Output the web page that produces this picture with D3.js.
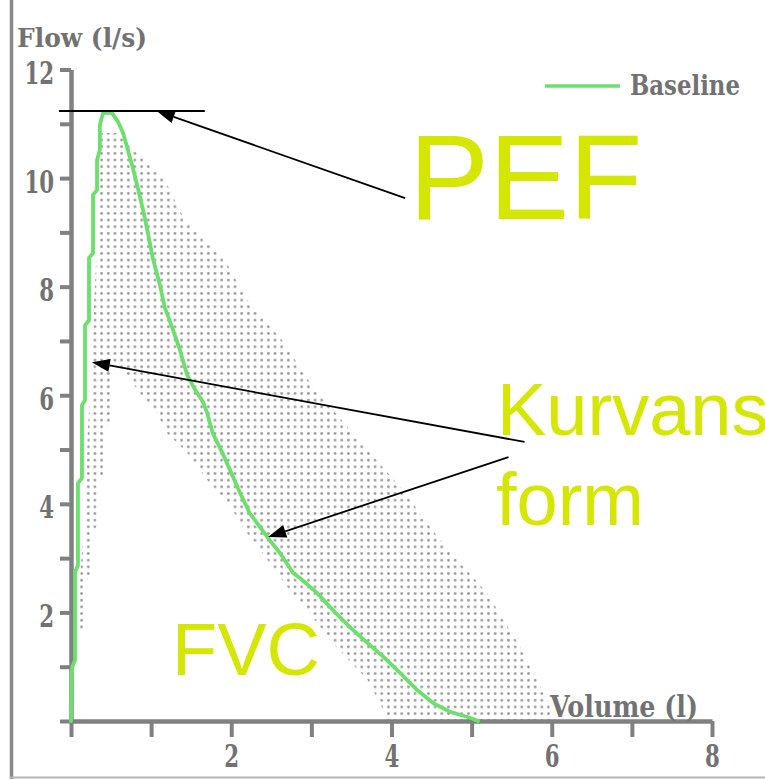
<!DOCTYPE html>
<html>
<head>
<meta charset="utf-8">
<script src="https://cdn.jsdelivr.net/npm/d3@7"></script>
<style>
  html, body { margin: 0; padding: 0; background: #ffffff; }
  svg { display: block; }
</style>
</head>
<body>
<svg id="chart" width="765" height="780"></svg>
<script>
// Baseline expiratory flow-volume curve (volume in l, flow in l/s)
const volume = [0, 0.012, 0.05, 0.05, 0.087, 0.087, 0.137, 0.137, 0.175, 0.175, 0.225, 0.225, 0.275, 0.275,
  0.325, 0.325, 0.36, 0.36, 0.40, 0.51, 0.59, 0.65, 0.70, 0.77, 0.84, 0.90, 0.96, 1.02, 1.11, 1.17, 1.26,
  1.36, 1.45, 1.55, 1.65, 1.70, 1.77, 1.89, 2.00, 2.11, 2.23, 2.36, 2.48, 2.61, 2.77, 2.86, 3.07, 3.27,
  3.48, 3.70, 3.90, 4.11, 4.32, 4.52, 4.73, 4.98, 5.08];
const flow = [0, 0.98, 1.12, 2.74, 2.87, 4.38, 4.48, 5.82, 5.91, 7.29, 7.38, 8.53, 8.62, 9.69,
  9.78, 10.33, 10.52, 10.98, 11.20, 11.20, 11.03, 10.83, 10.57, 10.20, 9.78, 9.41, 8.99, 8.53, 8.03, 7.62, 7.26,
  6.83, 6.37, 6.10, 5.87, 5.67, 5.30, 4.94, 4.57, 4.20, 3.83, 3.57, 3.33, 3.09, 2.73, 2.63, 2.36, 2.04,
  1.73, 1.44, 1.18, 0.88, 0.57, 0.33, 0.17, 0.06, 0];

// Predicted normal band, traced as one closed outline (volume, flow)
const bandVolume = [0.11, 0.11, 0.16, 0.19, 0.21, 0.26, 0.29, 0.32, 0.35, 0.36, 0.57, 0.82, 1.17, 1.42, 1.92,
  2.20, 2.63, 3.02, 3.52, 4.11, 4.61, 5.19, 5.61, 5.94, 6.04, 3.92, 3.90, 3.70, 3.23, 2.90, 2.70, 2.45, 2.20,
  1.99, 1.70, 1.45, 1.20, 1.07, 0.86, 0.71, 0.49, 0.49, 0.40, 0.40, 0.32, 0.32, 0.24, 0.24, 0.16, 0.16];
const bandFlow = [1.64, 2.60, 3.52, 4.44, 5.36, 6.46, 7.75, 8.67, 9.78, 10.83, 10.83, 10.46, 9.96, 9.23, 8.49,
  7.75, 7.02, 6.15, 5.30, 4.31, 3.33, 2.36, 1.36, 0.39, 0, 0, 0.20, 0.76, 1.49, 2.14, 2.47, 2.97, 3.46,
  3.94, 4.44, 4.94, 5.30, 5.67, 6.04, 6.34, 6.65, 5.49, 5.36, 4.53, 4.44, 3.57, 3.48, 2.65, 2.56, 1.64];

const xTicks = [0, 1, 2, 3, 4, 5, 6, 7, 8];
const xTickLabels = ["", "", "2", "", "4", "", "6", "", "8"];
const yTicks = [0, 1, 2, 3, 4, 5, 6, 7, 8, 9, 10, 11, 12];
const yTickLabels = ["", "", "2", "", "4", "", "6", "", "8", "", "10", "", "12"];

const seriesName = "Baseline";
const xTitle = "Volume (l)";
const yTitle = "Flow (l/s)";

// Callout labels
const pefLabel = "PEF";
const shapeLabel = ["Kurvans", "form"];
const fvcLabel = "FVC";

const svg = d3.select("#chart");
const W = 765, H = 780;

const x = d3.scaleLinear().domain([0, 8]).range([71, 712]);
const y = d3.scaleLinear().domain([0, 12]).range([721, 69.5]);

const axisGray = "#808080";
const textGray = "#727272";
const curveGreen = "#6cdf6c";
const calloutColor = "#d5e600";
const labelFont = "'DejaVu Serif', 'Liberation Serif', serif";
const calloutFont = "'Liberation Sans', Arial, sans-serif";

// outer frame
svg.append("line").attr("x1", 11.5).attr("x2", 11.5).attr("y1", 0).attr("y2", 779)
  .attr("stroke", "#8a8a8a").attr("stroke-width", 3.5);
svg.append("line").attr("x1", 10).attr("x2", W).attr("y1", 777.5).attr("y2", 777.5)
  .attr("stroke", "#b4b4b4").attr("stroke-width", 2);

// dot pattern for the normal band
const defs = svg.append("defs");
const pat = defs.append("pattern").attr("id", "dots")
  .attr("patternUnits", "userSpaceOnUse")
  .attr("x", 4.9).attr("y", 3.3).attr("width", 6.67).attr("height", 6.67);
pat.append("circle").attr("cx", 3.33).attr("cy", 3.33).attr("r", 1.35).attr("fill", "#969696");

const bandPts = bandVolume.map((v, i) => [v, bandFlow[i]]);
svg.append("path")
  .attr("d", d3.line().x(d => x(d[0])).y(d => y(d[1]))(bandPts) + "Z")
  .attr("fill", "url(#dots)");

// axes
const gY = svg.append("g").attr("transform", `translate(${x(0)},0)`)
  .call(d3.axisLeft(y).tickValues(yTicks).tickSize(11).tickSizeOuter(0)
    .tickFormat((d, i) => yTickLabels[i]));
const gX = svg.append("g").attr("transform", `translate(0,${y(0)})`)
  .call(d3.axisBottom(x).tickValues(xTicks).tickSize(16).tickSizeOuter(0)
    .tickFormat((d, i) => xTickLabels[i]));

[gY, gX].forEach(g => {
  g.select(".domain").attr("stroke", axisGray).attr("stroke-width", 4.5);
  g.selectAll(".tick line").attr("stroke", axisGray).attr("stroke-width", 4);
  g.selectAll(".tick text")
    .attr("fill", textGray)
    .attr("font-family", labelFont)
    .attr("font-weight", "bold")
    .attr("font-size", 32)
    .each(function () {
      const t = d3.select(this).text();
      if (t) d3.select(this).attr("textLength", 14.8 * t.length).attr("lengthAdjust", "spacingAndGlyphs");
    });
});
gY.selectAll(".tick text").attr("x", -17).attr("dy", 0).attr("y", 14).attr("text-anchor", "end");
gX.selectAll(".tick text").attr("y", 46).attr("dy", 0).attr("text-anchor", "middle");

// axis titles
svg.append("text").attr("x", 17).attr("y", 47)
  .attr("font-family", labelFont).attr("font-weight", "bold").attr("font-size", 26)
  .attr("fill", textGray).attr("textLength", 130).attr("lengthAdjust", "spacingAndGlyphs")
  .text(yTitle);
svg.append("text").attr("x", 550).attr("y", 717)
  .attr("font-family", labelFont).attr("font-weight", "bold").attr("font-size", 29)
  .attr("fill", textGray).attr("textLength", 148).attr("lengthAdjust", "spacingAndGlyphs")
  .text(xTitle);

// flow-volume curve
const curvePts = volume.map((v, i) => [v, flow[i]]);
svg.append("path")
  .attr("d", d3.line().x(d => x(d[0])).y(d => y(d[1]))(curvePts))
  .attr("fill", "none").attr("stroke", curveGreen).attr("stroke-width", 3.8)
  .attr("stroke-linejoin", "round").attr("stroke-linecap", "round");

// legend
svg.append("line").attr("x1", 545).attr("x2", 620).attr("y1", 86).attr("y2", 86)
  .attr("stroke", curveGreen).attr("stroke-width", 3.5);
svg.append("text").attr("x", 630).attr("y", 95)
  .attr("font-family", labelFont).attr("font-weight", "bold").attr("font-size", 27)
  .attr("fill", textGray).attr("textLength", 110).attr("lengthAdjust", "spacingAndGlyphs")
  .text(seriesName);

// peak flow marker line
const peakFlow = d3.max(flow);
const peakY = y(peakFlow) - 2;
svg.append("line").attr("x1", x(-0.15)).attr("x2", x(1.67)).attr("y1", peakY).attr("y2", peakY)
  .attr("stroke", "#000").attr("stroke-width", 2);

// callout arrows: [from volume, from flow, to volume, to flow]
const arrows = [
  [4.17, 9.63, 1.07, peakFlow],
  [5.66, 5.14, 0.26, 6.61],
  [5.46, 4.86, 2.46, 3.39]
];
arrows.forEach(([v0, f0, v1, f1], i) => {
  const x0 = x(v0), y0 = y(f0), x1 = x(v1);
  const y1 = i === 0 ? peakY : y(f1);
  const ang = Math.atan2(y1 - y0, x1 - x0);
  const len = 18, hw = 6.5;
  const bx = x1 - len * Math.cos(ang), by = y1 - len * Math.sin(ang);
  svg.append("line").attr("x1", x0).attr("y1", y0).attr("x2", bx).attr("y2", by)
    .attr("stroke", "#000").attr("stroke-width", 1.8);
  const px = -Math.sin(ang), py = Math.cos(ang);
  svg.append("polygon")
    .attr("points", [[x1, y1], [bx + hw * px, by + hw * py], [bx - hw * px, by - hw * py]].map(p => p.join(",")).join(" "))
    .attr("fill", "#000");
});

// callout labels
svg.append("text").attr("x", 409).attr("y", 219)
  .attr("font-family", calloutFont).attr("font-size", 120).attr("fill", calloutColor)
  .text(pefLabel);
svg.append("text").attr("x", 497).attr("y", 435)
  .attr("font-family", calloutFont).attr("font-size", 74).attr("fill", calloutColor)
  .text(shapeLabel[0]);
svg.append("text").attr("x", 496).attr("y", 525)
  .attr("font-family", calloutFont).attr("font-size", 74).attr("fill", calloutColor)
  .text(shapeLabel[1]);
svg.append("text").attr("x", 172).attr("y", 675)
  .attr("font-family", calloutFont).attr("font-size", 74).attr("fill", calloutColor)
  .text(fvcLabel);
</script>
</body>
</html>
